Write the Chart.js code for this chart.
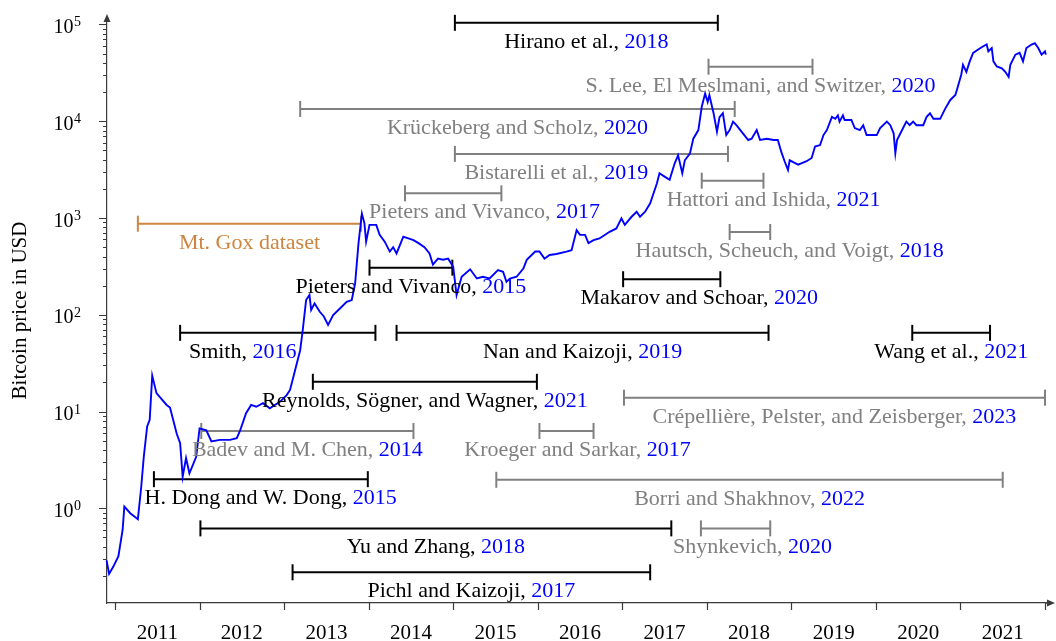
<!DOCTYPE html>
<html>
<head>
<meta charset="utf-8">
<title>Bitcoin price and study periods</title>
<script src="https://cdn.jsdelivr.net/npm/chart.js@4.4.1/dist/chart.umd.min.js"></script>
<style>
  html, body { margin: 0; padding: 0; background: #fff; }
  #wrap { width: 1056px; height: 641px; position: relative; }
</style>
</head>
<body>
<div id="wrap"><canvas id="priceChart"></canvas></div>
<script>
// Bitcoin price in USD, [decimal year, price]
const btcPrice = [
    [2010.90, 0.29], [2010.93, 0.21], [2010.98, 0.25], [2011.04, 0.32], [2011.09, 0.6],
    [2011.11, 1.04], [2011.18, 0.89], [2011.27, 0.77], [2011.31, 1.67], [2011.34, 3.4],
    [2011.38, 7.0], [2011.41, 8.2], [2011.44, 23.5], [2011.49, 15.5], [2011.61, 11.7],
    [2011.65, 11.0], [2011.73, 5.9], [2011.77, 4.7], [2011.80, 2.12], [2011.84, 3.3],
    [2011.88, 2.3], [2011.96, 3.4], [2012.00, 6.7], [2012.08, 6.4], [2012.14, 4.9],
    [2012.24, 5.1], [2012.36, 5.1], [2012.44, 5.3], [2012.48, 6.4], [2012.55, 9.6],
    [2012.61, 11.7], [2012.67, 11.2], [2012.75, 12.2], [2012.83, 10.8], [2012.95, 12.6],
    [2013.03, 14.8], [2013.07, 16.7], [2013.11, 22.9], [2013.19, 43], [2013.22, 69],
    [2013.26, 142], [2013.30, 160], [2013.32, 112], [2013.36, 131], [2013.42, 108],
    [2013.47, 96], [2013.52, 78.5], [2013.58, 99.5], [2013.66, 116], [2013.74, 136],
    [2013.80, 142], [2013.84, 211], [2013.88, 550], [2013.92, 1110], [2013.95, 880],
    [2013.97, 570], [2014.01, 850], [2014.09, 850], [2014.13, 670], [2014.19, 570],
    [2014.25, 450], [2014.29, 500], [2014.33, 430], [2014.41, 640], [2014.47, 615],
    [2014.53, 590], [2014.59, 550], [2014.66, 500], [2014.72, 430], [2014.76, 330],
    [2014.82, 380], [2014.88, 370], [2014.94, 380], [2015.00, 313], [2015.04, 160],
    [2015.10, 247], [2015.20, 295], [2015.28, 237], [2015.35, 247], [2015.43, 237],
    [2015.53, 290], [2015.59, 278], [2015.63, 219], [2015.67, 237], [2015.75, 247],
    [2015.83, 300], [2015.87, 370], [2015.97, 450], [2016.02, 450], [2016.08, 380],
    [2016.14, 415], [2016.22, 425], [2016.34, 450], [2016.40, 465], [2016.46, 750],
    [2016.50, 670], [2016.56, 670], [2016.60, 550], [2016.66, 590], [2016.73, 615],
    [2016.85, 720], [2016.93, 780], [2016.99, 990], [2017.03, 850], [2017.11, 1030],
    [2017.17, 1160], [2017.21, 1030], [2017.27, 1160], [2017.33, 1420], [2017.37, 1800],
    [2017.41, 2290], [2017.44, 2900], [2017.50, 2680], [2017.56, 2480], [2017.62, 3680],
    [2017.66, 4450], [2017.71, 2900], [2017.74, 3950], [2017.80, 4620], [2017.84, 6600],
    [2017.90, 8100], [2017.94, 14100], [2017.98, 19300], [2018.01, 15800], [2018.03, 18600],
    [2018.08, 12100], [2018.12, 7800], [2018.15, 11000], [2018.19, 12100], [2018.23, 7200],
    [2018.27, 8100], [2018.31, 9900], [2018.35, 9100], [2018.41, 7800], [2018.49, 6400],
    [2018.53, 6600], [2018.59, 8100], [2018.63, 6400], [2018.71, 6600], [2018.79, 6400],
    [2018.84, 6400], [2018.88, 4850], [2018.92, 3860], [2018.96, 3140], [2018.98, 3950],
    [2019.08, 3560], [2019.18, 3860], [2019.24, 4170], [2019.28, 5470], [2019.34, 5670],
    [2019.38, 7200], [2019.42, 8100], [2019.48, 11100], [2019.52, 10600], [2019.55, 11500],
    [2019.57, 9900], [2019.61, 11500], [2019.63, 10300], [2019.71, 10300], [2019.75, 8500],
    [2019.81, 8100], [2019.85, 9100], [2019.89, 7200], [2020.01, 7200], [2020.05, 8500],
    [2020.13, 9900], [2020.17, 9100], [2020.21, 7500], [2020.23, 4680], [2020.25, 6400],
    [2020.28, 7200], [2020.36, 9900], [2020.40, 9100], [2020.44, 9900], [2020.48, 9100],
    [2020.56, 9100], [2020.60, 11100], [2020.64, 12100], [2020.68, 10600], [2020.76, 10600],
    [2020.82, 13500], [2020.88, 16600], [2020.94, 18700], [2020.97, 22900], [2021.01, 30400],
    [2021.03, 38300], [2021.07, 32400], [2021.11, 41600], [2021.15, 50900], [2021.21, 55100],
    [2021.27, 59600], [2021.31, 62100], [2021.33, 52800], [2021.37, 57200], [2021.39, 41600],
    [2021.43, 36800], [2021.49, 35300], [2021.53, 32400], [2021.57, 28700], [2021.59, 38300],
    [2021.65, 48800], [2021.70, 50900], [2021.74, 41600], [2021.78, 57200], [2021.84, 62100],
    [2021.88, 64000], [2021.92, 57200], [2021.96, 48800], [2022.00, 52800], [2022.01, 48800]
];

// Study periods: one bar per paper, drawn at a price level
const studyAuthors = [
    'Hirano et al.', 'S. Lee, El Meslmani, and Switzer', 'Krückeberg and Scholz',
    'Bistarelli et al.', 'Pieters and Vivanco', 'Hattori and Ishida',
    'Hautsch, Scheuch, and Voigt', 'Mt. Gox dataset', 'Pieters and Vivanco',
    'Makarov and Schoar', 'Smith', 'Nan and Kaizoji', 'Wang et al.',
    'Reynolds, Sögner, and Wagner', 'Crépellière, Pelster, and Zeisberger',
    'Badev and M. Chen', 'Kroeger and Sarkar', 'H. Dong and W. Dong',
    'Borri and Shakhnov', 'Yu and Zhang', 'Shynkevich', 'Pichl and Kaizoji'
];
const studyYears = [
    '2018', '2020', '2020', '2019', '2017', '2021', '2018', '', '2015', '2020', '2016',
    '2019', '2021', '2021', '2023', '2014', '2017', '2015', '2022', '2018', '2020', '2017'
];
const studyFrom = [
    2015.02, 2018.02, 2013.19, 2015.02, 2014.43, 2017.94, 2018.27, 2011.27, 2014.01, 2017.01, 2011.77,
    2014.33, 2020.43, 2013.34, 2017.02, 2012.02, 2016.02, 2011.46, 2015.51, 2012.01, 2017.93, 2013.10
];
const studyTo = [
    2018.13, 2019.25, 2018.33, 2018.25, 2015.57, 2018.67, 2018.75, 2013.91, 2014.99, 2018.16, 2014.08,
    2018.73, 2021.35, 2015.99, 2022.00, 2014.53, 2016.66, 2013.99, 2021.50, 2017.58, 2018.75, 2017.33
];
const studyLevel = [
    104000, 36600, 13400, 4600, 1800, 2430, 717, 873, 307, 233, 65,
    65, 65, 20.3, 13.9, 6.3, 6.3, 2.0, 1.97, 0.62, 0.62, 0.218
];
// 'main' = black, 'other' = grey, 'gox' = the Mt. Gox data
const studyKind = [
    'main', 'other', 'other', 'other', 'other', 'other', 'other', 'gox', 'main', 'main', 'main',
    'main', 'main', 'main', 'other', 'other', 'other', 'main', 'other', 'main', 'other', 'main'
];
// where the caption is centred (decimal year); null = middle of the bar
const studyLabelAt = [
    null, null, null, 2016.22, 2015.37, 2018.79, 2018.98, null, null, 2017.91, 2012.51,
    null, null, null, null, null, 2016.47, 2012.84, null, null, 2018.54, null
];

const yearLabels = [2011, 2012, 2013, 2014, 2015, 2016, 2017, 2018, 2019, 2020, 2021];
const yearBoundaries = [2011, 2012, 2013, 2014, 2015, 2016, 2017, 2018, 2019, 2020, 2021, 2022];

const colors = {
    main: '#000000',
    other: '#808080',
    gox: '#cd853f',
    year: '#0000ff',
    price: '#0000ff',
    axis: '#3a3a3a'
};
const serif = '"Liberation Serif", "DejaVu Serif", serif';

function powerOf(value) {
    const e = Math.log10(value);
    return Math.abs(e - Math.round(e)) < 1e-6 ? Math.round(e) : null;
}

// Tick marks, power-of-ten labels, arrow heads
const axisDecor = {
    id: 'axisDecor',
    afterDraw(chart) {
        const { ctx, chartArea: area, scales: { x, y } } = chart;
        ctx.save();
        ctx.strokeStyle = colors.axis;
        ctx.fillStyle = colors.axis;
        ctx.lineWidth = 1.2;
        ctx.beginPath();
        y.ticks.forEach(t => {
            const py = Math.round(y.getPixelForValue(t.value)) + 0.5;
            const len = powerOf(t.value) !== null ? 8 : 4;
            ctx.moveTo(area.left - len, py);
            ctx.lineTo(area.left, py);
        });
        yearBoundaries.forEach(yr => {
            const px = Math.round(x.getPixelForValue(yr)) + 0.5;
            ctx.moveTo(px, area.bottom);
            ctx.lineTo(px, area.bottom + 7);
        });
        // x axis runs a little past the last year before its arrow
        ctx.moveTo(area.right, area.bottom);
        ctx.lineTo(area.right + 4, area.bottom);
        ctx.stroke();
        // arrow heads
        ctx.beginPath();
        ctx.moveTo(area.left, area.top - 4);
        ctx.lineTo(area.left - 3.5, area.top + 4);
        ctx.lineTo(area.left + 3.5, area.top + 4);
        ctx.closePath();
        ctx.moveTo(area.right + 9, area.bottom);
        ctx.lineTo(area.right + 1, area.bottom - 3.5);
        ctx.lineTo(area.right + 1, area.bottom + 3.5);
        ctx.closePath();
        ctx.fill();

        // 10^n labels with a raised exponent
        ctx.fillStyle = '#000';
        ctx.textBaseline = 'alphabetic';
        y.ticks.forEach(t => {
            const e = powerOf(t.value);
            if (e === null) return;
            const py = y.getPixelForValue(t.value);
            const right = area.left - 26;
            ctx.font = '14px ' + serif;
            const exp = String(e);
            const we = ctx.measureText(exp).width;
            ctx.textAlign = 'left';
            ctx.fillText(exp, right - we, py + 2);
            ctx.font = '20px ' + serif;
            ctx.textAlign = 'right';
            ctx.fillText('10', right - we - 0.5, py + 8.5);
        });
        ctx.restore();
    }
};

// Captions under each study bar: authors in the bar colour, year in blue
const studyCaptions = {
    id: 'studyCaptions',
    afterDatasetsDraw(chart) {
        const { ctx, scales: { x, y } } = chart;
        ctx.save();
        ctx.font = '22px ' + serif;
        ctx.textBaseline = 'alphabetic';
        ctx.textAlign = 'left';
        studyAuthors.forEach((author, i) => {
            const at = studyLabelAt[i] !== null ? studyLabelAt[i] : (studyFrom[i] + studyTo[i]) / 2;
            const cx = x.getPixelForValue(at);
            const by = y.getPixelForValue(studyLevel[i]) + 25;
            const head = studyYears[i] ? author + ', ' : author;
            const w1 = ctx.measureText(head).width;
            const w2 = ctx.measureText(studyYears[i]).width;
            const x0 = cx - (w1 + w2) / 2;
            ctx.fillStyle = colors[studyKind[i]];
            ctx.fillText(head, x0, by);
            ctx.fillStyle = colors.year;
            ctx.fillText(studyYears[i], x0 + w1, by);
        });
        ctx.restore();
    }
};

const studyDatasets = studyAuthors.map((author, i) => {
    const c = colors[studyKind[i]];
    return {
        label: author,
        data: [{ x: studyFrom[i], y: studyLevel[i] }, { x: studyTo[i], y: studyLevel[i] }],
        borderColor: c,
        borderWidth: 2,
        pointStyle: 'line',
        pointRadius: 8,
        pointRotation: 90,
        pointBorderColor: c,
        pointBorderWidth: 2,
        pointHoverRadius: 8,
        clip: false,
        order: 1
    };
});

new Chart(document.getElementById('priceChart'), {
    type: 'line',
    data: {
        datasets: [
            {
                label: 'Bitcoin price',
                data: btcPrice.map(([t, p]) => ({ x: t, y: p })),
                borderColor: colors.price,
                borderWidth: 1.9,
                pointRadius: 0,
                tension: 0,
                clip: false,
                order: 0
            },
            ...studyDatasets
        ]
    },
    options: {
        responsive: true,
        maintainAspectRatio: false,
        devicePixelRatio: 1,
        animation: false,
        events: [],
        layout: { padding: { top: 18, right: 2, bottom: 0, left: 0 } },
        plugins: {
            legend: { display: false },
            tooltip: { enabled: false }
        },
        scales: {
            x: {
                type: 'linear',
                min: 2010.905,
                max: 2022.012,
                grid: { display: false, drawTicks: false },
                border: { display: true, color: colors.axis, width: 1.2 },
                afterBuildTicks(scale) {
                    scale.ticks = yearLabels.map(yr => ({ value: yr + 0.5 }));
                },
                afterFit(scale) {
                    scale.height = 38;
                    scale.paddingLeft = 0;
                    scale.paddingRight = 0;
                },
                ticks: {
                    autoSkip: false,
                    maxRotation: 0,
                    padding: 18,
                    color: '#000',
                    font: { family: serif, size: 21 },
                    callback: v => String(Math.floor(v))
                }
            },
            y: {
                type: 'logarithmic',
                min: 0.105,
                max: 116700,
                grid: { display: false, drawTicks: false },
                border: { display: true, color: colors.axis, width: 1.2 },
                afterBuildTicks(scale) {
                    const ticks = [];
                    for (let e = -1; e <= 5; e++) {
                        for (let m = 1; m <= 9; m++) {
                            const v = m * Math.pow(10, e);
                            if (v >= scale.min && v <= scale.max) ticks.push({ value: v });
                        }
                    }
                    scale.ticks = ticks;
                },
                afterFit(scale) {
                    scale.width = 107;
                    scale.paddingTop = 0;
                    scale.paddingBottom = 0;
                },
                title: {
                    display: true,
                    text: 'Bitcoin price in USD',
                    color: '#000',
                    font: { family: serif, size: 21 },
                    padding: { top: 8, bottom: 0 }
                },
                ticks: {
                    autoSkip: false,
                    color: '#000',
                    font: { family: serif, size: 20 },
                    // labels are drawn by axisDecor with a raised exponent
                    callback: () => ''
                }
            }
        }
    },
    plugins: [axisDecor, studyCaptions]
});
</script>
</body>
</html>
